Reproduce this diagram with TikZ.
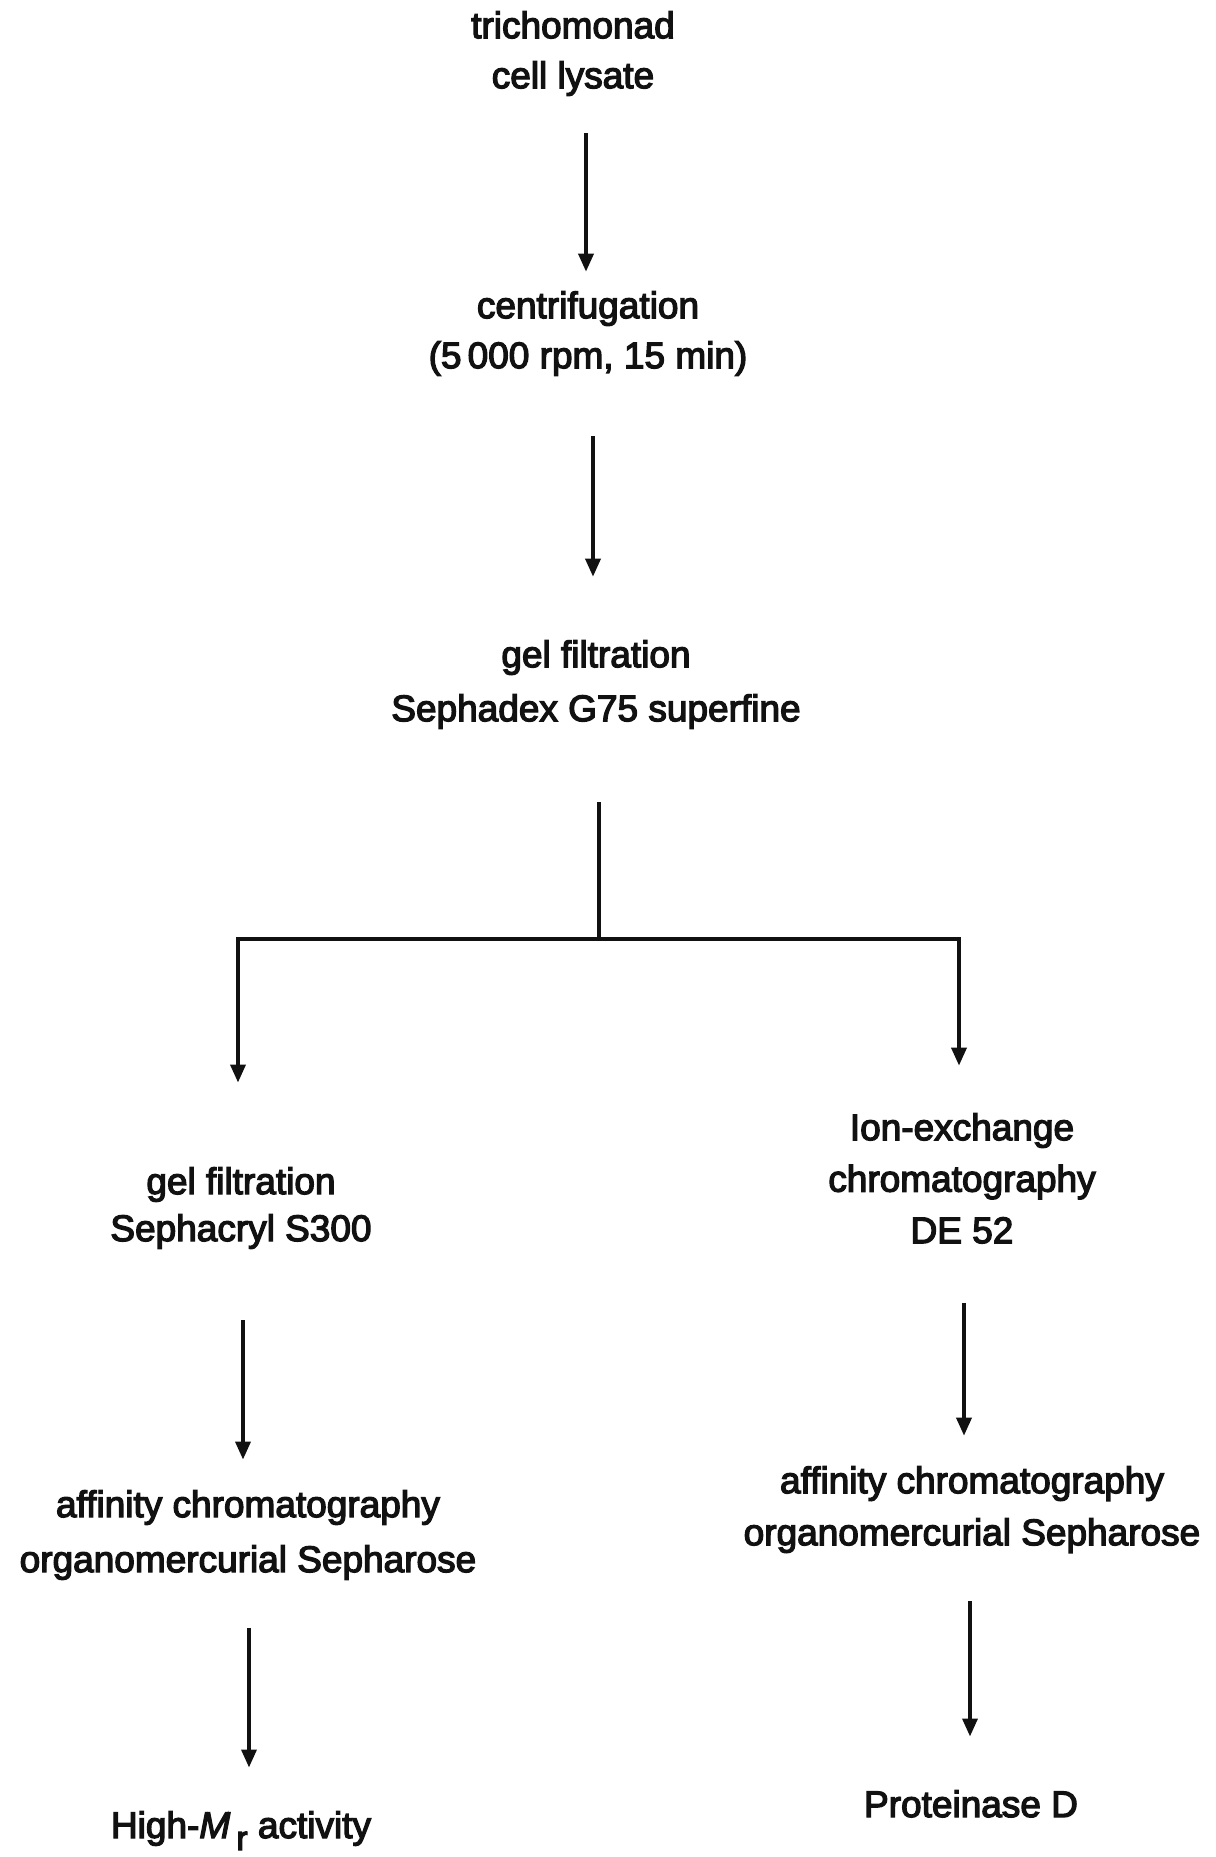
\documentclass[tikz,border=0pt]{standalone}
\usepackage{fontspec}
\setmainfont{Liberation Sans}[FakeBold=3.5]
\usepackage{tikz}
\usetikzlibrary{arrows.meta}
\definecolor{flowink}{HTML}{111111}

\tikzset{
  stage/.style={align=center, inner sep=0pt, text=flowink,
    font=\fontsize{37}{50}\selectfont},
  link/.style={draw=flowink, line width=3.6pt},
  flow/.style={link, -{Triangle[length=18pt,width=15pt]}},
}

\begin{document}
\begin{tikzpicture}[x=1pt,y=-1pt]
  \useasboundingbox (0,0) rectangle (1215,1857);

  \node[stage] (lysate) at (573,53.6) {trichomonad\\cell lysate};
  \node[stage] (centri) at (588,333.6) {centrifugation\\(5\,000 rpm, 15 min)};
  \node[stage] (gelA) at (596,684.6) {gel filtration\\[4pt]Sephadex G75 superfine};
  \node[stage] (gelB) at (241,1208) {gel filtration\\[-3pt]Sephacryl S300};
  \node[stage] (ionex) at (962,1178.4) {Ion-exchange\\[1.5pt]chromatography\\[1.5pt]DE 52};
  \node[stage] (affL) at (248,1535) {affinity chromatography\\[5pt]organomercurial Sepharose};
  \node[stage] (affR) at (972,1509.6) {affinity chromatography\\[2pt]organomercurial Sepharose};
  \node[stage, anchor=base] (highmr) at (241,1838)
    {High-\textit{M}\,\raisebox{-12pt}{\fontsize{34}{34}\selectfont r}\ activity};
  \node[stage, anchor=base] (protD) at (971,1817) {Proteinase D};
  \coordinate (split) at (599,939);

  \draw[flow] ([xshift=13pt,yshift=-37pt]lysate.south) -- ([xshift=-2pt,yshift=19.5pt]centri.north);
  \draw[flow] ([xshift=5pt,yshift=-60pt]centri.south) -- ([xshift=-3pt,yshift=63.5pt]gelA.north);
  \draw[link] ([xshift=3pt,yshift=-73pt]gelA.south) -- (split);
  \draw[flow] (split) -| ([xshift=-3pt,yshift=84.5pt]gelB.north);
  \draw[flow] (split) -| ([xshift=-3pt,yshift=47.5pt]ionex.north);
  \draw[flow] ([xshift=2pt,yshift=-71pt]gelB.south) -- ([xshift=-5pt,yshift=30.5pt]affL.north);
  \draw[flow] ([xshift=2pt,yshift=-59pt]ionex.south) -- ([xshift=-8pt,yshift=30.5pt]affR.north);
  \draw[flow] ([xshift=1pt,yshift=-48pt]affL.south) -- ([xshift=8pt,yshift=43.5pt]highmr.north);
  \draw[flow] ([xshift=-2pt,yshift=-48pt]affR.south) -- ([xshift=-1pt,yshift=53.5pt]protD.north);
\end{tikzpicture}
\end{document}
